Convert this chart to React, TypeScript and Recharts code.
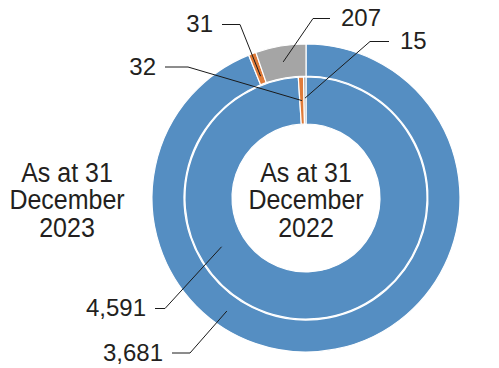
import React from "react";
import { PieChart, Pie, Cell } from "recharts";

document.body.style.margin = "0";

// slices, clockwise from 12 o'clock
const segments = ["main", "minorA", "minorB"];
const values2023 = [3681, 31, 207];
const values2022 = [4591, 32, 15];
const valueText2023 = ["3,681", "31", "207"];
const valueText2022 = ["4,591", "32", "15"];
const title2023 = ["As at 31", "December", "2023"];
const title2022 = ["As at 31", "December", "2022"];

const colors = ["#558ec2", "#e07b39", "#a5a5a5"];
const INK = "#231f20";
const FONT = "'Liberation Sans', Arial, Helvetica, sans-serif";
const RAD = Math.PI / 180;

const outerData = segments.map((name, i) => ({ name, value: values2023[i] }));
const innerData = segments.map((name, i) => ({ name, value: values2022[i] }));

type Callout = {
  angle?: number; // override for where the leader touches the ring
  depth: number; // 0 = inner edge, 1 = outer edge
  start: [number, number];
  elbow: [number, number];
  side: "left" | "right";
};

const outerCallouts: Callout[] = [
  { angle: 235, depth: 0.5, start: [172, 353], elbow: [190, 353], side: "left" },
  { depth: 0.25, start: [222, 24.5], elbow: [240, 24.5], side: "left" },
  { depth: 0.5, start: [330, 18.5], elbow: [313, 18.5], side: "right" },
];

const innerCallouts: Callout[] = [
  { angle: 210, depth: 0.5, start: [155, 308.5], elbow: [165, 308.5], side: "left" },
  { depth: 0.5, start: [165, 67], elbow: [188, 67], side: "left" },
  { depth: 0.55, start: [389, 41.5], elbow: [370, 41.5], side: "right" },
];

function makeLabel(texts: string[], callouts: Callout[]) {
  return (props: any) => {
    const { cx, cy, midAngle, innerRadius, outerRadius, index } = props;
    const c = callouts[index];
    const a = c.angle ?? midAngle;
    const r = innerRadius + (outerRadius - innerRadius) * c.depth;
    const ax = cx + r * Math.cos(-a * RAD);
    const ay = cy + r * Math.sin(-a * RAD);
    const tx = c.side === "left" ? c.start[0] - 9 : c.start[0] + 11;
    const ty = c.start[1] + 7.5;
    return (
      <g key={`lbl-${index}`}>
        <polyline
          points={`${c.start[0]},${c.start[1]} ${c.elbow[0]},${c.elbow[1]} ${ax},${ay}`}
          fill="none"
          stroke="#1a1a1a"
          strokeWidth={1}
        />
        <text
          transform={`translate(${tx} ${ty}) scale(1 1.03)`}
          textAnchor={c.side === "left" ? "end" : "start"}
          fill={INK}
          fontSize={24}
          fontFamily={FONT}
        >
          {texts[index]}
        </text>
      </g>
    );
  };
}

function Title({ lines, x }: { lines: string[]; x: number }) {
  return (
    <g>
      {lines.map((t, i) => (
        <text
          key={i}
          transform={`translate(${x} ${181.5 + i * 27.5}) scale(1 1.08)`}
          textAnchor="middle"
          fill={INK}
          fontSize={25}
          fontFamily={FONT}
        >
          {t}
        </text>
      ))}
    </g>
  );
}

export default function App() {
  return (
    <PieChart width={499} height={368} margin={{ top: 0, right: 0, bottom: 0, left: 0 }}>
      <Pie
        data={outerData}
        dataKey="value"
        cx={306}
        cy={198}
        innerRadius={122}
        outerRadius={154}
        startAngle={90}
        endAngle={-270}
        stroke="#ffffff"
        strokeWidth={1.2}
        label={makeLabel(valueText2023, outerCallouts)}
        labelLine={false}
        isAnimationActive={false}
      >
        {outerData.map((d, i) => (
          <Cell key={d.name} fill={colors[i]} />
        ))}
      </Pie>
      <Pie
        data={innerData}
        dataKey="value"
        cx={306}
        cy={198}
        innerRadius={74}
        outerRadius={121}
        startAngle={90}
        endAngle={-270}
        stroke="#ffffff"
        strokeWidth={1.2}
        label={makeLabel(valueText2022, innerCallouts)}
        labelLine={false}
        isAnimationActive={false}
      >
        {innerData.map((d, i) => (
          <Cell key={d.name} fill={colors[i]} />
        ))}
      </Pie>
      <Title lines={title2023} x={67} />
      <Title lines={title2022} x={306} />
    </PieChart>
  );
}
